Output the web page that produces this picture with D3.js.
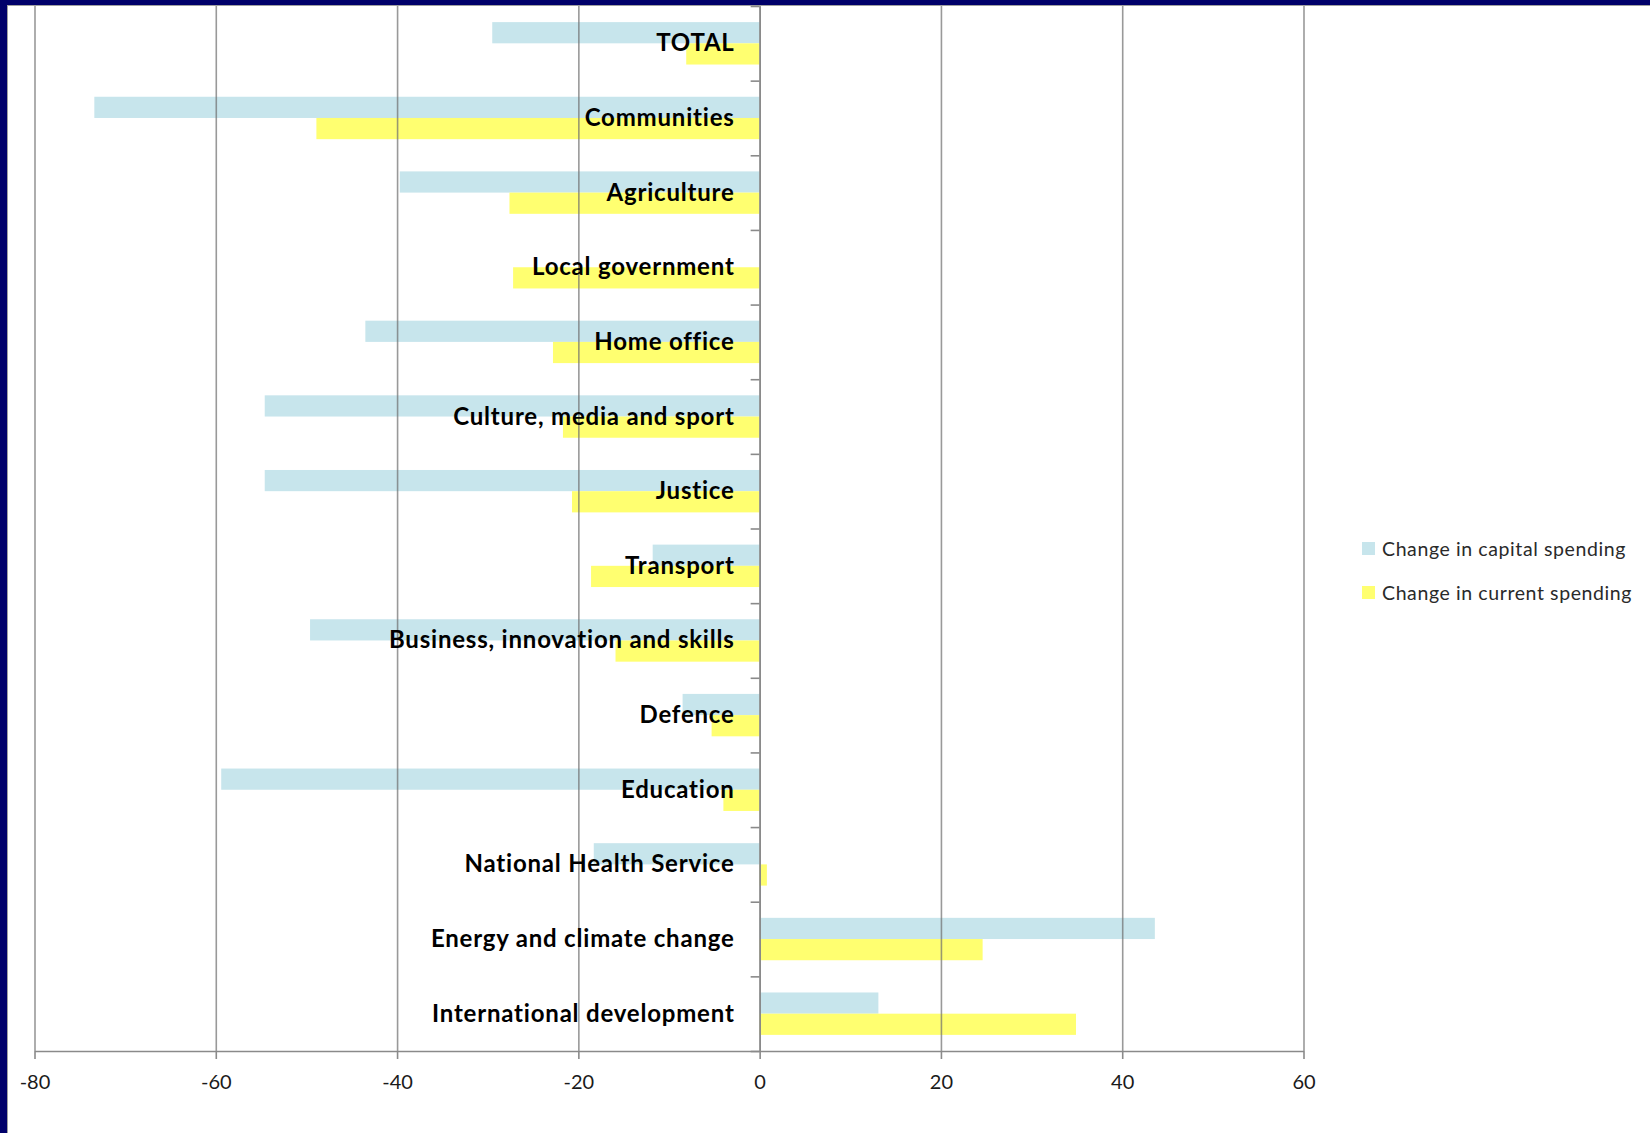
<!DOCTYPE html>
<html>
<head>
<meta charset="utf-8">
<script src="https://cdn.jsdelivr.net/npm/d3@7"></script>
<style>
  html, body { margin: 0; padding: 0; background: #ffffff; }
  svg { display: block; }
</style>
</head>
<body>
<svg id="chart" width="1650" height="1133"></svg>
<script>
const categories = ["TOTAL", "Communities", "Agriculture", "Local government", "Home office",
  "Culture, media and sport", "Justice", "Transport", "Business, innovation and skills",
  "Defence", "Education", "National Health Service", "Energy and climate change",
  "International development"];
const capitalChange = [-29.5, -73.4, -39.7, 0, -43.5, -54.6, -54.6, -11.8, -49.6, -8.5, -59.4, -18.3, 43.6, 13.1];
const currentChange = [-8.1, -48.9, -27.6, -27.2, -22.8, -21.7, -20.7, -18.6, -15.9, -5.3, -4.0, 0.8, 24.6, 34.9];
const seriesNames = ["Change in capital spending", "Change in current spending"];
const xTickValues = [-80, -60, -40, -20, 0, 20, 40, 60];

const seriesColors = ["#c7e5ec", "#ffff70"];
const seriesValues = [capitalChange, currentChange];

const svg = d3.select("#chart");

// frame
svg.append("rect").attr("x", 0).attr("y", 0).attr("width", 1650).attr("height", 1133).attr("fill", "#ffffff");
svg.append("rect").attr("x", 0).attr("y", 0).attr("width", 1650).attr("height", 5).attr("fill", "#00006a");
svg.append("rect").attr("x", 0).attr("y", 0).attr("width", 7).attr("height", 1133).attr("fill", "#00006a");
svg.append("line").attr("x1", 7).attr("x2", 1650).attr("y1", 5.5).attr("y2", 5.5).attr("stroke", "#a0a0a0").attr("stroke-width", 1);
svg.append("line").attr("x1", 7.5).attr("x2", 7.5).attr("y1", 5).attr("y2", 1133).attr("stroke", "#a0a0a0").attr("stroke-width", 1);

const plotTop = 6, plotBottom = 1051;
const x = d3.scaleLinear().domain([-80, 60]).range([34.5, 1303.5]);
const y0 = d3.scaleBand().domain(categories).range([plotTop, plotBottom]).padding(0);
const y1 = d3.scaleBand().domain(seriesNames).range([0, y0.bandwidth()]).paddingInner(0).paddingOuter(0.76);

const rows = categories.map((c, i) => ({ cat: c, vals: seriesNames.map((s, j) => ({ s, v: seriesValues[j][i], j })) }));

// bars
const g = svg.append("g");
g.selectAll("g.row").data(rows).join("g")
  .attr("class", "row")
  .attr("transform", d => `translate(0,${y0(d.cat)})`)
  .selectAll("rect").data(d => d.vals).join("rect")
  .attr("x", d => x(Math.min(0, d.v)))
  .attr("width", d => Math.abs(x(d.v) - x(0)))
  .attr("y", d => y1(d.s))
  .attr("height", y1.bandwidth())
  .attr("fill", d => seriesColors[d.j]);

// vertical gridlines
const grid = svg.append("g").attr("transform", `translate(0,${plotBottom})`)
  .call(d3.axisBottom(x).tickValues(xTickValues).tickSize(-(plotBottom - plotTop)).tickFormat(""));
grid.select(".domain").remove();
grid.selectAll("line").attr("stroke", "#6e6e6e").attr("stroke-opacity", 0.7).attr("stroke-width", 1.6);

// x axis
const xAxis = svg.append("g").attr("transform", `translate(0,${plotBottom})`)
  .call(d3.axisBottom(x).tickValues(xTickValues).tickSize(8).tickSizeOuter(0).tickPadding(16).tickFormat(d => String(d)));
xAxis.select(".domain").attr("stroke", "#8a8a8a").attr("stroke-width", 1.6);
xAxis.selectAll(".tick line").attr("stroke", "#8a8a8a").attr("stroke-width", 1.6);
xAxis.selectAll(".tick text")
  .attr("fill", "#1a1a1a")
  .style("font-family", "Lato, 'Open Sans', sans-serif")
  .style("font-size", "20px");

// category axis at zero with boundary ticks
const yIdx = d3.scaleLinear().domain([0, categories.length]).range([plotTop, plotBottom]);
const yAxis = svg.append("g").attr("transform", `translate(${x(0)},0)`)
  .call(d3.axisLeft(yIdx).tickValues(d3.range(categories.length + 1)).tickSize(9).tickSizeOuter(0).tickFormat(""));
yAxis.select(".domain").attr("stroke", "#8a8a8a").attr("stroke-width", 1.6);
yAxis.selectAll(".tick line").attr("stroke", "#8a8a8a").attr("stroke-width", 1.6);

// category labels
svg.append("g").selectAll("text").data(categories).join("text")
  .attr("x", x(0) - 25)
  .attr("y", d => y0(d) + y0.bandwidth() / 2 + 8)
  .attr("text-anchor", "end")
  .attr("fill", "#000000")
  .style("font-family", "Lato, 'Open Sans', sans-serif")
  .style("font-weight", "700")
  .style("font-size", "24px")
  .style("letter-spacing", "0.8px")
  .text(d => d);

// legend
const legend = svg.append("g");
const lg = legend.selectAll("g").data(seriesNames).join("g")
  .attr("transform", (d, i) => `translate(1362,${542 + i * 44})`);
lg.append("rect").attr("width", 13).attr("height", 13).attr("fill", (d, i) => seriesColors[i]);
lg.append("text").attr("x", 20).attr("y", 13.5)
  .attr("fill", "#2a2a2a")
  .style("font-family", "Lato, 'Open Sans', sans-serif")
  .style("font-size", "19.5px")
  .style("letter-spacing", "0.6px")
  .text(d => d);
</script>
</body>
</html>
